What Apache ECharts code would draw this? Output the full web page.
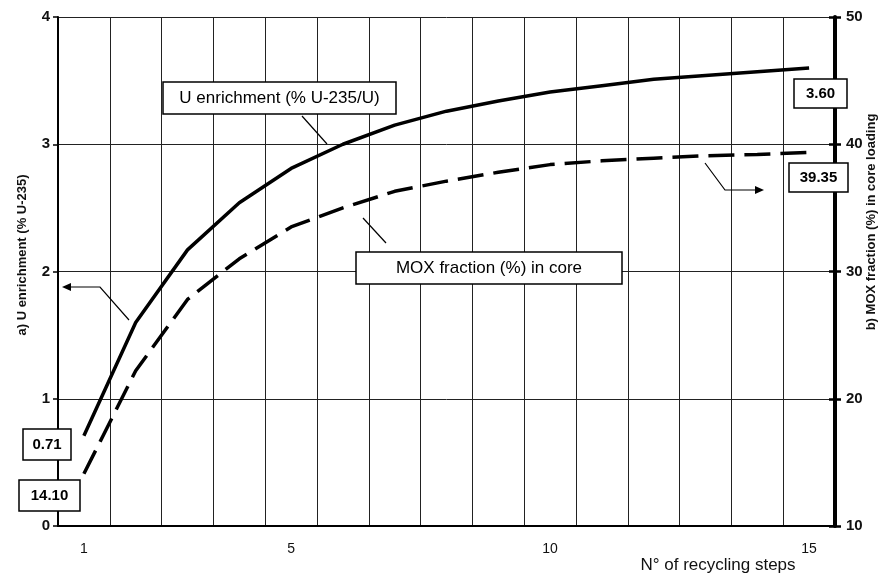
<!DOCTYPE html>
<html>
<head>
<meta charset="utf-8">
<script src="https://cdn.jsdelivr.net/npm/echarts@6/dist/echarts.min.js"></script>
<style>
html,body{margin:0;padding:0;background:#fff;}
#c{width:881px;height:574px;}
</style>
</head>
<body>
<div id="c"></div>
<script>
const steps = ['1','2','3','4','5','6','7','8','9','10','11','12','13','14','15'];
const uEnrichment = [0.71, 1.60, 2.17, 2.54, 2.81, 3.00, 3.15, 3.26, 3.34, 3.41, 3.46, 3.51, 3.54, 3.57, 3.60];
const moxFraction = [14.10, 22.2, 27.8, 31.0, 33.5, 35.0, 36.3, 37.1, 37.8, 38.4, 38.7, 38.9, 39.1, 39.2, 39.35];
const shownStepLabels = ['1','5','10','15'];
const leftTicks = {min: 0, max: 4, interval: 1};
const rightTicks = {min: 10, max: 50, interval: 10};

const FONT = 'Liberation Sans, Arial, sans-serif';
const chart = echarts.init(document.getElementById('c'), null, {renderer: 'canvas'});

function box(x, y, w, h, text, font) {
  return [
    {type: 'rect', z: 100, shape: {x: x, y: y, width: w, height: h},
     style: {fill: '#fff', stroke: '#000', lineWidth: 1.5}},
    {type: 'text', z: 101, x: x + w / 2, y: y + h / 2,
     style: {text: text, font: font, fill: '#000', textAlign: 'center', textVerticalAlign: 'middle'}}
  ];
}
function line(points, w) {
  return {type: 'polyline', z: 90, shape: {points: points},
    style: {stroke: '#000', lineWidth: w || 1.2, fill: null}};
}
function arrowHead(tipX, tipY, dir) {
  const l = 9, h = 4;
  const bx = tipX - dir * l;
  return {type: 'polygon', z: 90, shape: {points: [[tipX, tipY], [bx, tipY - h], [bx, tipY + h]]},
    style: {fill: '#000'}};
}

const valBold = 'bold 15px ' + FONT;
const annFont = '17px ' + FONT;

const option = {
  animation: false,
  backgroundColor: '#fff',
  grid: {left: 58, right: 46, top: 17, bottom: 48},
  xAxis: {
    type: 'category',
    data: steps,
    boundaryGap: true,
    axisLine: {lineStyle: {color: '#000', width: 2}},
    axisTick: {show: false, interval: 0},
    axisLabel: {
      interval: function (i, v) { return shownStepLabels.indexOf(v) >= 0; },
      color: '#111', fontSize: 14, fontFamily: FONT, margin: 16
    },
    splitLine: {show: true, interval: 0, lineStyle: {color: '#222', width: 1}}
  },
  yAxis: [
    {
      type: 'value', position: 'left',
      min: leftTicks.min, max: leftTicks.max, interval: leftTicks.interval,
      axisLine: {show: true, lineStyle: {color: '#000', width: 2}},
      axisTick: {show: true, length: 5, lineStyle: {color: '#000', width: 1.5}},
      axisLabel: {color: '#111', fontSize: 15, fontWeight: 'bold', fontFamily: FONT, margin: 8},
      splitLine: {show: true, lineStyle: {color: '#222', width: 1}}
    },
    {
      type: 'value', position: 'right',
      min: rightTicks.min, max: rightTicks.max, interval: rightTicks.interval,
      axisLine: {show: true, lineStyle: {color: '#000', width: 4}},
      axisTick: {show: true, length: 6, lineStyle: {color: '#000', width: 2.5}},
      axisLabel: {color: '#111', fontSize: 15, fontWeight: 'bold', fontFamily: FONT, margin: 11},
      splitLine: {show: false}
    },
    {
      type: 'value', position: 'right',
      min: rightTicks.min, max: rightTicks.max, interval: rightTicks.interval,
      axisLine: {show: false},
      axisTick: {show: true, inside: true, length: 6, lineStyle: {color: '#000', width: 2.5}},
      axisLabel: {show: false},
      splitLine: {show: false}
    }
  ],
  series: [
    {
      name: 'U enrichment (% U-235/U)', type: 'line', yAxisIndex: 0,
      data: uEnrichment, symbol: 'none', smooth: false,
      lineStyle: {color: '#000', width: 3.5}, z: 5
    },
    {
      name: 'MOX fraction (%) in core', type: 'line', yAxisIndex: 1,
      data: moxFraction, symbol: 'none', smooth: false,
      lineStyle: {color: '#000', width: 3.5, type: [26, 10]}, z: 5
    }
  ],
  graphic: [].concat(
    [
      line([[302, 116], [327, 144]]),
      line([[363, 218], [386, 243]]),
      line([[129, 320], [100, 287], [70, 287]]),
      arrowHead(62, 287, -1),
      line([[705, 163], [725, 190], [756, 190]]),
      arrowHead(764, 190, 1)
    ],
    box(163, 82, 233, 32, 'U enrichment (% U-235/U)', annFont),
    box(356, 252, 266, 32, 'MOX fraction (%) in core', annFont),
    box(23, 429, 48, 31, '0.71', valBold),
    box(19, 480, 61, 31, '14.10', valBold),
    box(794, 79, 53, 29, '3.60', valBold),
    box(789, 163, 59, 29, '39.35', valBold),
    [
      {type: 'text', z: 100, x: 22, y: 255, rotation: Math.PI / 2,
       style: {text: 'a) U enrichment (% U-235)', font: 'bold 13px ' + FONT, fill: '#111',
               textAlign: 'center', textVerticalAlign: 'middle'}},
      {type: 'text', z: 100, x: 871, y: 222, rotation: Math.PI / 2,
       style: {text: 'b) MOX fraction (%) in core loading', font: 'bold 13px ' + FONT, fill: '#111',
               textAlign: 'center', textVerticalAlign: 'middle'}},
      {type: 'text', z: 100, x: 718, y: 565,
       style: {text: 'N° of recycling steps', font: '17px ' + FONT, fill: '#111',
               textAlign: 'center', textVerticalAlign: 'middle'}}
    ]
  )
};
chart.setOption(option);
</script>
</body>
</html>
